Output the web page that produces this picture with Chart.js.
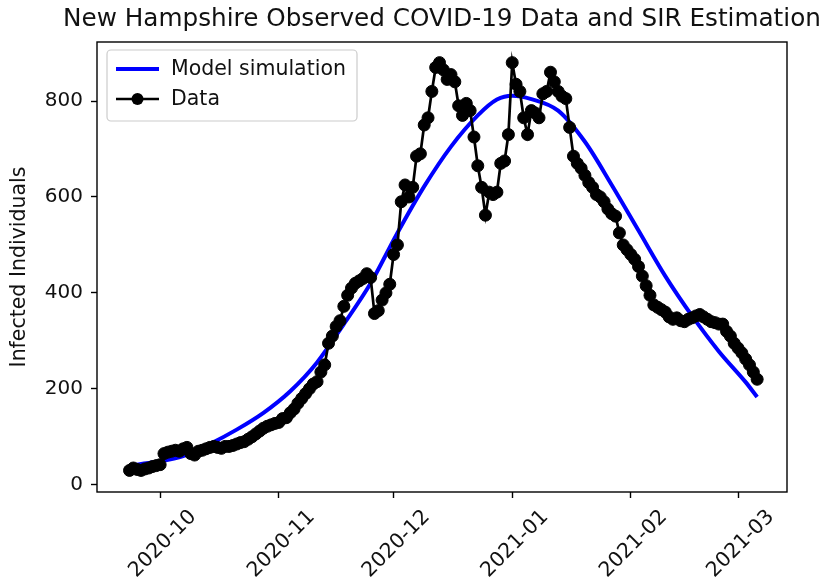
<!DOCTYPE html>
<html><head><meta charset="utf-8">
<script src="https://cdn.jsdelivr.net/npm/chart.js@4"></script>
<style>html,body{margin:0;padding:0;background:#fff}</style>
</head><body>
<canvas id="c" width="827" height="583"></canvas>
<script>
// ---- data ----
const startDate = '2020-09-23';           // first observed day
const observed = [
  30,35,32,30,33,35,38,40,42,
  65,68,70,72,70,75,78,65,62,70,
  72,75,78,80,78,76,80,80,82,85,
  88,90,95,100,106,112,118,122,125,128,
  130,138,140,150,158,170,180,190,200,210,
  215,235,250,295,310,330,342,372,395,410,
  420,425,430,440,432,357,363,385,400,418,
  480,500,590,625,600,620,685,690,750,765,
  820,870,880,865,845,855,840,790,770,795,
  780,725,665,620,562,610,605,610,670,675,
  730,880,835,820,765,730,780,775,765,815,
  820,860,840,820,810,805,745,685,670,660,
  645,630,620,605,600,590,575,565,560,525,
  500,490,480,470,455,435,415,395,375,370,
  365,360,350,345,348,342,340,345,348,352,
  355,350,345,340,338,335,335,320,310,295,
  285,275,262,250,235,220
];
const modelDays   = [0,7,14,21,28,35,42,49,56,63,70,77,84,91,96,100,105,112,119,126,133,140,147,154,161,164];
const modelValues = [40,48,60,85,115,150,195,255,335,420,525,622,705,770,803,811,804,780,715,625,530,435,352,278,214,183];
const yTicks = [0,200,400,600,800];
const xTickLabels = ['2020-10','2020-11','2020-12','2021-01','2021-02','2021-03'];
const seriesLabels = ['Model simulation','Data'];
const titleText = 'New Hampshire Observed COVID-19 Data and SIR Estimation';
const yTitle = 'Infected Individuals';

// ---- helpers ----
const DAY = 86400000;
const t0 = Date.parse(startDate + 'T00:00:00Z');
const dayOf = s => Math.round((Date.parse(s + 'T00:00:00Z') - t0) / DAY);
const xTickDays = xTickLabels.map(l => dayOf(l + '-01'));
const obsPoints = observed.map((v, i) => ({x: i, y: v}));
const modelPoints = modelDays.map((d, i) => ({x: d, y: modelValues[i]}));

const FONT = 'DejaVu Sans';
const TXT = '#111';
const BASE = 20.5;

const framePlugin = {
  id: 'frame',
  afterDatasetsDraw(chart) {
    const a = chart.chartArea, ctx = chart.ctx;
    ctx.save();
    ctx.strokeStyle = '#000';
    ctx.lineWidth = 1.4;
    ctx.strokeRect(a.left, a.top, a.right - a.left, a.bottom - a.top);
    ctx.restore();
  },
  afterDraw(chart) {
    const a = chart.chartArea, ctx = chart.ctx;
    ctx.save();
    // title, centred over the plot area
    ctx.fillStyle = TXT;
    ctx.font = '24.7px "' + FONT + '"';
    ctx.textAlign = 'center';
    ctx.textBaseline = 'middle';
    ctx.fillText(titleText, (a.left + a.right) / 2, 20);
    // legend
    const bx = a.left + 10, by = a.top + 8, bw = 250, bh = 71, r = 4;
    ctx.fillStyle = 'rgba(255,255,255,0.8)';
    ctx.strokeStyle = '#cccccc';
    ctx.lineWidth = 1.2;
    ctx.beginPath();
    ctx.roundRect(bx, by, bw, bh, r);
    ctx.fill(); ctx.stroke();
    const ds = chart.data.datasets;
    ctx.font = BASE + 'px "' + FONT + '"';
    ctx.textBaseline = 'middle';
    ctx.textAlign = 'left';
    ds.forEach((d, k) => {
      const yy = by + 19 + k * 30;
      ctx.strokeStyle = d.borderColor;
      ctx.lineWidth = d.borderWidth;
      ctx.beginPath(); ctx.moveTo(bx + 9, yy); ctx.lineTo(bx + 52, yy); ctx.stroke();
      if (d.pointRadius > 0) {
        ctx.fillStyle = d.pointBackgroundColor;
        ctx.beginPath(); ctx.arc(bx + 30.5, yy, d.pointRadius, 0, Math.PI * 2); ctx.fill();
      }
      ctx.fillStyle = TXT;
      ctx.fillText(d.label, bx + 64, yy + 1);
    });
    ctx.restore();
  }
};

new Chart(document.getElementById('c'), {
  type: 'line',
  data: {
    datasets: [
      {
        label: seriesLabels[0], data: modelPoints, order: 1,
        borderColor: '#0000ff', backgroundColor: '#0000ff', borderWidth: 4,
        pointRadius: 0, cubicInterpolationMode: 'monotone', fill: false
      },
      {
        label: seriesLabels[1], data: obsPoints, order: 0,
        borderColor: '#000000', backgroundColor: '#000000', borderWidth: 2.7,
        pointRadius: 6, pointBackgroundColor: '#000000', pointBorderColor: '#000000',
        pointBorderWidth: 1, tension: 0, fill: false
      }
    ]
  },
  options: {
    responsive: false, animation: false, devicePixelRatio: 1,
    layout: { padding: { left: 0, right: 40, top: 42, bottom: 0 }, autoPadding: false },
    plugins: {
      legend: { display: false },
      tooltip: { enabled: false },
      title: { display: false }
    },
    scales: {
      x: {
        type: 'linear', min: -8.5, max: 171.8,
        afterBuildTicks: s => { s.ticks = xTickDays.map(v => ({value: v})); },
        afterFit: s => { s.height = 91; },
        ticks: {
          callback: (v) => xTickLabels[xTickDays.indexOf(v)] ?? '',
          minRotation: 45, maxRotation: 45, color: TXT, padding: 7, labelOffset: 33,
          font: { family: FONT, size: BASE }
        },
        grid: { display: true, drawOnChartArea: false, drawTicks: true, tickLength: 6, color: '#000', tickWidth: 1.4 },
        border: { display: false }
      },
      y: {
        type: 'linear', min: -15, max: 923,
        afterBuildTicks: s => { s.ticks = yTicks.map(v => ({value: v})); },
        afterFit: s => { s.width = 97; },
        ticks: { color: TXT, padding: 8, font: { family: FONT, size: 20 } },
        grid: { display: true, drawOnChartArea: false, drawTicks: true, tickLength: 6, color: '#000', tickWidth: 1.4 },
        border: { display: false },
        title: { display: true, text: yTitle, color: TXT, font: { family: FONT, size: BASE }, padding: { top: 7, bottom: 0 } }
      }
    }
  },
  plugins: [framePlugin]
});
</script>
</body></html>
